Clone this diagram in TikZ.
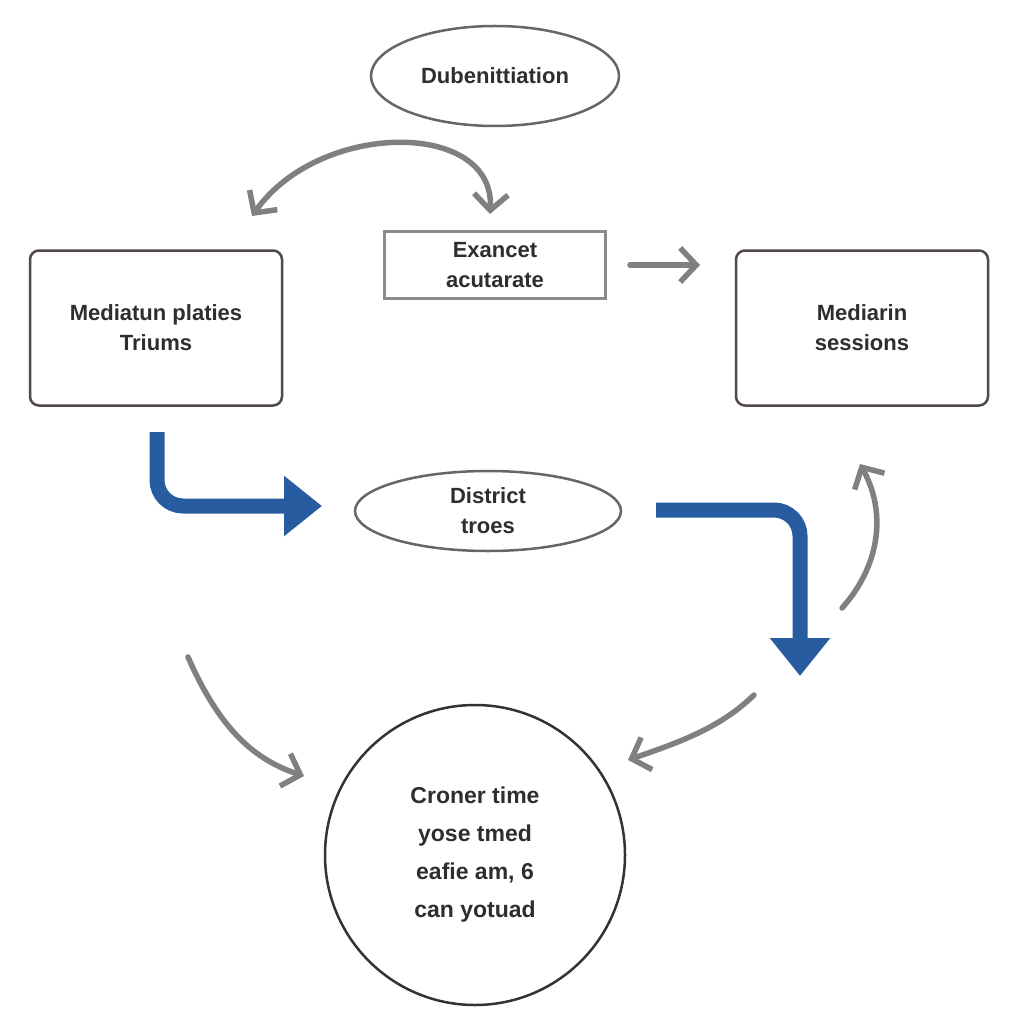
\documentclass[tikz,border=0pt]{standalone}
\usepackage{fontspec}
\setmainfont{Liberation Sans}
\usetikzlibrary{arrows.meta,shapes.geometric}
\definecolor{bluearr}{RGB}{40,92,160}
\definecolor{grayarr}{RGB}{128,128,128}
\definecolor{boxline}{RGB}{80,72,78}
\tikzset{
  txt/.style={font=\fontsize{22}{30}\selectfont\bfseries, text=black!82, align=center},
  rbox/.style={draw=boxline, line width=2.5pt, rounded corners=9pt, minimum width=252pt, minimum height=155pt, txt},
  sbox/.style={draw=black!45, line width=2.5pt, minimum width=221pt, minimum height=67pt, txt},
  oval/.style={ellipse, draw=black!60, line width=2.5pt, txt},
  roundnode/.style={circle, draw=black!80, line width=2.5pt, minimum size=300pt, txt, font=\fontsize{23}{38}\selectfont\bfseries},
  grayarrow/.style={draw=grayarr, line width=5.5pt, line cap=round, -{Straight Barb[length=16pt,width=34pt,line width=5.5pt]}},
  blueelbow/.style={draw=bluearr, line width=15pt, rounded corners=26pt, -{Triangle[length=38pt,width=58pt]}}
}
\begin{document}
\begin{tikzpicture}[x=1pt,y=-1pt]
\useasboundingbox (0,0) rectangle (1024,1024);
\fill[white] (0,0) rectangle (1024,1024);

\node[oval, minimum width=248pt, minimum height=100pt] (dub) at (495,76) {Dubenittiation};
\node[sbox] (exa) at (495,265) {Exancet\\acutarate};
\node[rbox] (left) at (156,328) {Mediatun platies\\Triums};
\node[rbox] (right) at (862,328) {Mediarin\\sessions};
\node[oval, minimum width=266pt, minimum height=80pt] (dist) at (488,511) {District\\troes};
\node[roundnode] (circ) at (475,855) {Croner time\\yose tmed\\eafie am, 6\\can yotuad};

% top double arc
\coordinate (ta) at (252,216);
\coordinate (tb) at (490,214);
\draw[grayarrow, {Straight Barb[length=16pt,width=34pt,line width=5.5pt]}-{Straight Barb[length=16pt,width=34pt,line width=5.5pt]}]
  (ta) .. controls (320,120) and (495,120) .. (tb);

% straight arrow to right box
\coordinate (sa) at (630,265);
\coordinate (sb) at (700,265);
\draw[grayarrow] (sa) -- (sb);

% blue elbow left
\coordinate (bl1) at (157,432);
\coordinate (bl2) at (157,506);
\coordinate (bl3) at (322,506);
\draw[blueelbow] (bl1) -- (bl2) -- (bl3);

% blue elbow right
\coordinate (br1) at (656,510);
\coordinate (br2) at (800,510);
\coordinate (br3) at (800,676);
\draw[blueelbow] (br1) -- (br2) -- (br3);

% right arc up
\coordinate (ra) at (842,608);
\coordinate (rb) at (860,464);
\draw[grayarrow] (ra) .. controls (878,568) and (888,515) .. (rb);

% lower left arrow
\coordinate (la) at (188,657);
\coordinate (lb) at (304,776);
\draw[grayarrow] (la) .. controls (220,730) and (255,760) .. (lb);

% lower right arrow
\coordinate (lra) at (754,695);
\coordinate (lrb) at (628,760);
\draw[grayarrow] (lra) .. controls (720,728) and (680,742) .. (lrb);
\end{tikzpicture}
\end{document}
